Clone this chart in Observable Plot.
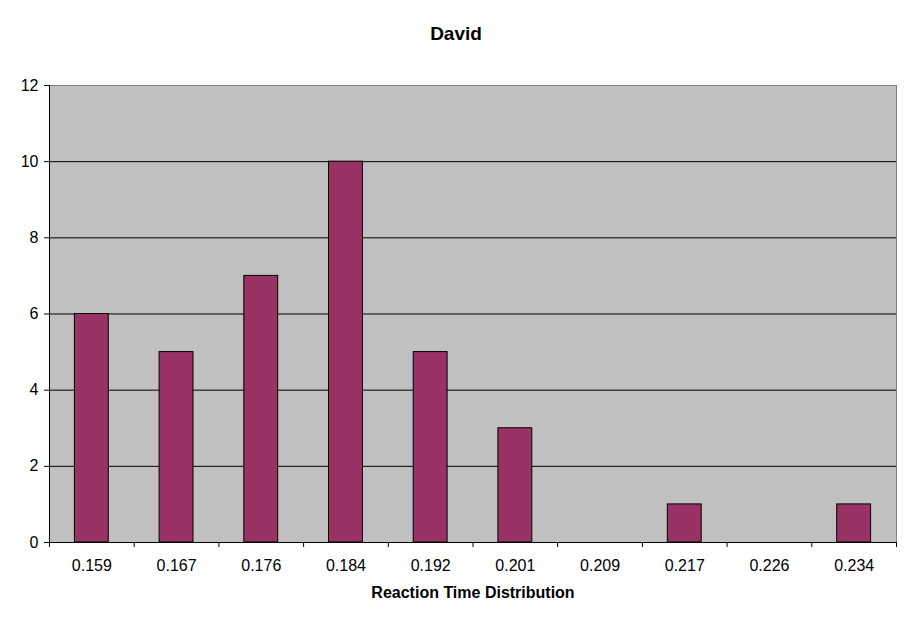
<!DOCTYPE html>
<html>
<head>
<meta charset="utf-8">
<script src="https://cdn.jsdelivr.net/npm/d3@7"></script>
<script src="https://cdn.jsdelivr.net/npm/@observablehq/plot@0.6"></script>
<style>
  html, body { margin: 0; padding: 0; background: white; }
</style>
</head>
<body>
<div id="chart"></div>
<script>
const title = "David";
const xLabel = "Reaction Time Distribution";
const categories = ["0.159", "0.167", "0.176", "0.184", "0.192", "0.201", "0.209", "0.217", "0.226", "0.234"];
const counts = [6, 5, 7, 10, 5, 3, 0, 1, 0, 1];
const yTicks = [0, 2, 4, 6, 8, 10, 12];

const data = categories.map((c, i) => ({idx: i, label: c, count: counts[i]}));
const n = categories.length;

const chart = Plot.plot({
  width: 911,
  height: 623,
  marginLeft: 49,
  marginRight: 15,
  marginTop: 85,
  marginBottom: 81,
  style: {fontFamily: "Arial, 'Liberation Sans', sans-serif", fontSize: "16px", background: "white", color: "black"},
  x: {domain: [0, n], axis: null},
  y: {domain: [0, 12], axis: null},
  marks: [
    Plot.frame({fill: "#c0c0c0", stroke: "#808080"}),
    Plot.gridY(yTicks.filter(d => d > 0 && d < 12), {stroke: "black", strokeOpacity: 1}),
    Plot.rectY(data, {
      x1: d => d.idx + 0.3,
      x2: d => d.idx + 0.7,
      y: "count",
      fill: "#993366",
      stroke: "black",
      strokeWidth: 1
    }),
    Plot.ruleX([0], {stroke: "black"}),
    Plot.ruleY([0], {stroke: "black"}),
    Plot.axisY(yTicks, {tickSize: 5, tickPadding: 6, label: null, stroke: "black", fontSize: 16}),
    Plot.axisX(d3.range(n + 1), {tickSize: 5, tickFormat: () => "", label: null, stroke: "black"}),
    Plot.axisX(d3.range(n).map(i => i + 0.5), {
      tickSize: 0, tickPadding: 17, label: null, fontSize: 16,
      tickFormat: d => categories[Math.floor(d)]
    }),
    Plot.text([xLabel], {frameAnchor: "bottom", lineAnchor: "middle", dy: 50, fontWeight: "bold", fontSize: 16}),
    Plot.text([title], {frameAnchor: "top", lineAnchor: "middle", dx: -17, dy: -52, fontWeight: "bold", fontSize: 19})
  ]
});
document.getElementById("chart").appendChild(chart);
</script>
</body>
</html>
